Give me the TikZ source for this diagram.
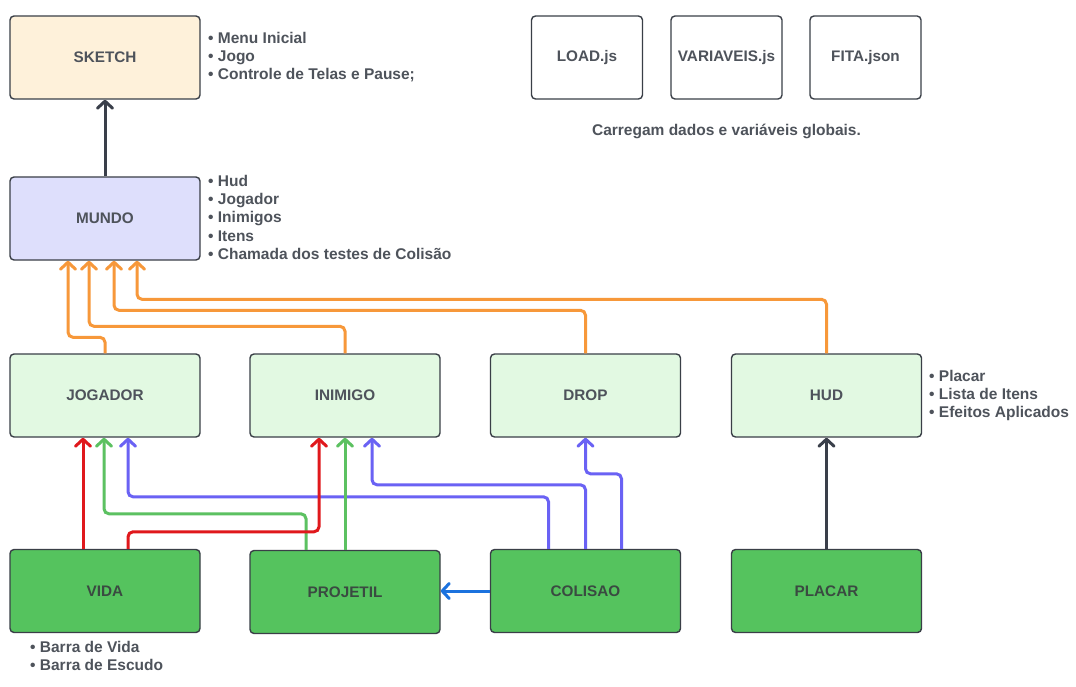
\documentclass[tikz,border=0pt]{standalone}
\usepackage{fontspec}
\setmainfont{Liberation Sans}
\usetikzlibrary{arrows.meta,calc}
\definecolor{bord}{HTML}{3A3F47}
\definecolor{txt}{HTML}{4E535B}
\definecolor{txtdark}{HTML}{3A4A41}
\definecolor{beige}{HTML}{FEF1DA}
\definecolor{lav}{HTML}{DEDFFC}
\definecolor{lgreen}{HTML}{E2F9E2}
\definecolor{dgreen}{HTML}{55C35E}
\definecolor{corange}{HTML}{F7983A}
\definecolor{cred}{HTML}{E0181C}
\definecolor{cgreen}{HTML}{5CC161}
\definecolor{cpurple}{HTML}{6A62F4}
\definecolor{cblue}{HTML}{1B72DE}
\definecolor{cdark}{HTML}{3A3F4A}
\begin{document}
\begin{tikzpicture}[x=1pt,y=-1pt,
  box/.style={draw=bord,line width=1.4pt,rounded corners=4pt,minimum width=190pt,minimum height=83pt,inner sep=0pt,font=\fontsize{15.3}{18}\selectfont\bfseries,text=txt},
  smallbox/.style={box,minimum width=111pt},
  darkbox/.style={box,fill=dgreen,text=txtdark},
  lightbox/.style={box,fill=lgreen},
  note/.style={anchor=base west,inner sep=0pt,font=\fontsize{15.5}{18}\selectfont\bfseries,text=txt},
  conn/.style={line width=3pt,rounded corners=5pt,-{Straight Barb[length=7pt,width=15pt,round]}},
]
\useasboundingbox (0,0) rectangle (1076,687);
\fill[white] (0,0) rectangle (1076,687);

% boxes
\node[box,fill=beige] (sketch) at (105,57.5) {SKETCH};
\node[box,fill=lav] (mundo) at (105,218.5) {MUNDO};
\node[lightbox] (jogador) at (105,395.5) {JOGADOR};
\node[lightbox] (inimigo) at (345,395.5) {INIMIGO};
\node[lightbox] (drop) at (585.5,395.5) {DROP};
\node[lightbox] (hud) at (826.5,395.5) {HUD};
\node[darkbox] (vida) at (105,591) {VIDA};
\node[darkbox] (projetil) at (345,592) {PROJETIL};
\node[darkbox] (colisao) at (585.5,591) {COLISAO};
\node[darkbox] (placar) at (826.5,591) {PLACAR};
\node[smallbox] (load) at (587,57.5) {LOAD.js};
\node[smallbox] (variaveis) at (726.5,57.5) {\raisebox{3pt}{VARIAVEIS.js}};
\node[smallbox] (fita) at (865.5,57.5) {FITA.json};

% notes
\node[note] (s1) at (208,43.5) {• Menu Inicial};
\node[note] (s2) at (208,61.5) {• Jogo};
\node[note] (s3) at (208,79.5) {• Controle de Telas e Pause;};
\node[note] (m1) at (208,186.5) {• Hud};
\node[note] (m2) at (208,204.5) {• Jogador};
\node[note] (m3) at (208,222.5) {• Inimigos};
\node[note] (m4) at (208,241) {• Itens};
\node[note] (m5) at (208,259) {• Chamada dos testes de Colisão};
\node[note] (h1) at (929,381.5) {• Placar};
\node[note] (h2) at (929,399.5) {• Lista de Itens};
\node[note] (h3) at (929,417.5) {• Efeitos Aplicados};
\node[note] (v1) at (30,652.5) {• Barra de Vida};
\node[note] (v2) at (30,670.5) {• Barra de Escudo};
\node[note,anchor=base] (glob) at (726.5,135.5) {Carregam dados e variáveis globais.};

% dark connectors
\draw[conn,cdark] (mundo.north) -- (sketch.south);
\draw[conn,cdark] (placar.north) -- (hud.south);
% blue
\draw[conn,cblue] (colisao.west) -- (colisao.west -| projetil.east);

% orange
\draw[conn,corange] (jogador.north) -- ++(0,-16) -| ($(mundo.south)+(-37,0)$);
\draw[conn,corange] (inimigo.north) -- ++(0,-27) -| ($(mundo.south)+(-16,0)$);
\draw[conn,corange] (drop.north) -- ++(0,-43) -| ($(mundo.south)+(9,0)$);
\draw[conn,corange] (hud.north) -- ++(0,-54) -| ($(mundo.south)+(32,0)$);

% purple
\draw[conn,cpurple] ($(colisao.north)+(-37,0)$) -- ++(0,-52) -| ($(jogador.south)+(23,0)$);
\draw[conn,cpurple] (colisao.north) -- ++(0,-64) -| ($(inimigo.south)+(27,0)$);
\draw[conn,cpurple] ($(colisao.north)+(36,0)$) -- ++(0,-75) -| (drop.south);

% green
\draw[conn,cgreen] ($(projetil.north)+(-39,0)$) -- ++(0,-36) -| ($(jogador.south)+(-1,0)$);
\draw[conn,cgreen] (projetil.north) -- (inimigo.south);

% red
\draw[conn,cred] ($(vida.north)+(-22,0)$) -- ($(jogador.south)+(-22,0)$);
\draw[conn,cred] ($(vida.north)+(23,0)$) -- ++(0,-17) -| ($(inimigo.south)+(-26,0)$);
\end{tikzpicture}
\end{document}
